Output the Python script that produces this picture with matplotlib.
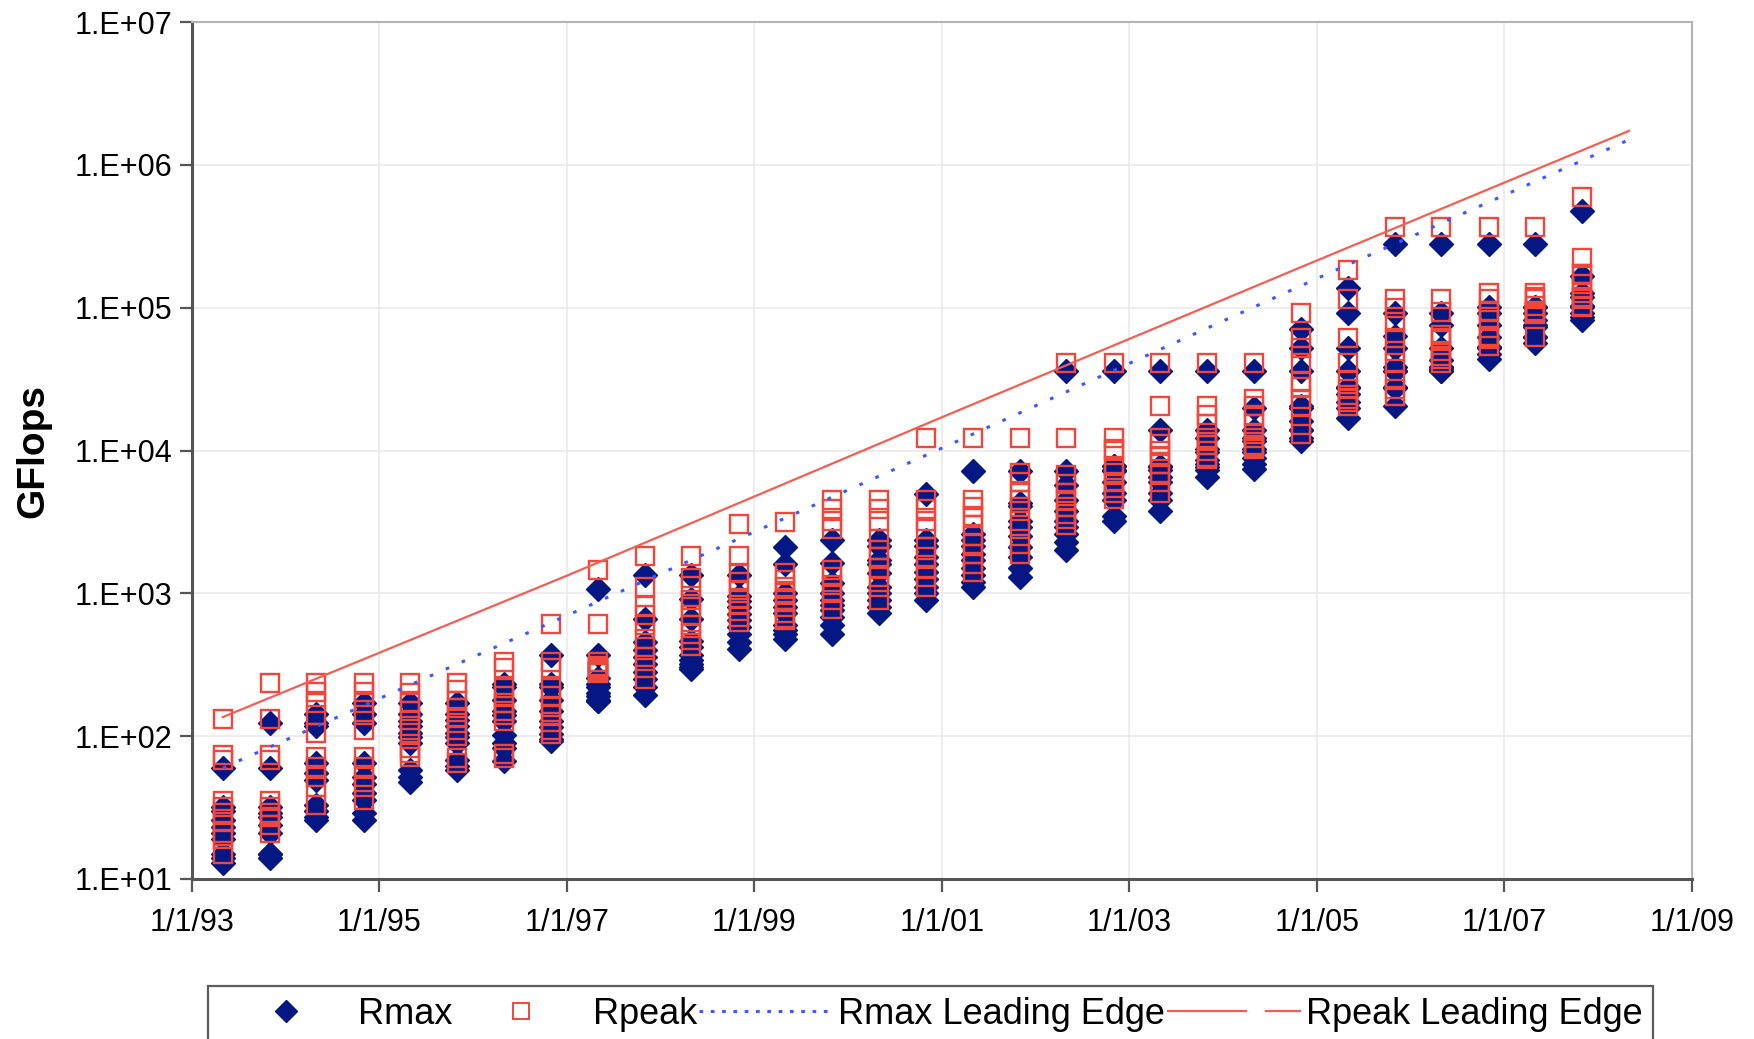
"""Top10 Rmax / Rpeak per TOP500 list, 1993-2007, with leading-edge trend lines."""
import datetime as dt

import matplotlib

matplotlib.use("Agg")
import matplotlib.dates as mdates
import matplotlib.pyplot as plt
from matplotlib.lines import Line2D

plt.rcParams["font.family"] = ["Liberation Sans", "DejaVu Sans"]

# one entry per list (spring / autumn)
LIST_DATES = [
    "1993-05-01", "1993-11-01", "1994-05-01", "1994-11-01", "1995-05-01",
    "1995-11-01", "1996-05-01", "1996-11-01", "1997-05-01", "1997-11-01",
    "1998-05-01", "1998-11-01", "1999-05-01", "1999-11-01", "2000-05-01",
    "2000-11-01", "2001-05-01", "2001-11-01", "2002-05-01", "2002-11-01",
    "2003-05-01", "2003-11-01", "2004-05-01", "2004-11-01", "2005-05-01",
    "2005-11-01", "2006-05-01", "2006-11-01", "2007-05-01", "2007-11-01",
]

# GFlops, top 10 systems of each list
RMAX = [
    [59.7, 32, 30, 26, 23, 21, 19, 15, 14, 13],
    [124, 59.7, 32, 29, 27, 24, 21, 15, 15, 14],
    [143, 124, 117, 65, 55, 49, 33, 30, 27, 26],
    [170, 143, 124, 65, 52, 46, 40, 36, 29, 26],
    [170, 143, 128, 117, 105, 98, 90, 58, 52, 48],
    [170, 143, 130, 118, 105, 98, 90, 68, 62, 58],
    [232, 220, 180, 150, 140, 128, 102, 90, 83, 67],
    [368, 232, 220, 180, 150, 128, 115, 103, 95, 92],
    [1068, 368, 254, 232, 220, 200, 190, 180, 176, 175],
    [1338, 660, 455, 400, 360, 320, 280, 250, 220, 195],
    [1338, 908, 660, 467, 420, 368, 340, 320, 305, 297],
    [1338, 960, 880, 800, 720, 650, 580, 520, 460, 409],
    [2121, 1608, 1002, 900, 800, 730, 600, 555, 520, 480],
    [2379, 1630, 1177, 1000, 900, 830, 760, 680, 600, 520],
    [2379, 2144, 1718, 1600, 1383, 1114, 1000, 900, 800, 723],
    [4938, 2379, 2144, 1800, 1608, 1400, 1250, 1100, 1000, 900],
    [7226, 2600, 2379, 2144, 1900, 1700, 1500, 1350, 1200, 1110],
    [7226, 4300, 4059, 3200, 2900, 2500, 2100, 1800, 1500, 1300],
    [35860, 7226, 5700, 4500, 3800, 3200, 2900, 2600, 2300, 2000],
    [35860, 7727, 7727, 7304, 7226, 6000, 5000, 4500, 3500, 3200],
    [35860, 13880, 7727, 7634, 7304, 6500, 6000, 5000, 4500, 3800],
    [35860, 13880, 12250, 10280, 9819, 8633, 8051, 7634, 7304, 6500],
    [35860, 19940, 13880, 12250, 11680, 10280, 9819, 8800, 8000, 7400],
    [70720, 51870, 35860, 20530, 19940, 16000, 14000, 13880, 12250, 11680],
    [136800, 91290, 51870, 35860, 27910, 27450, 24670, 21930, 19940, 17000],
    [280600, 91290, 63390, 51870, 38270, 36190, 35860, 27910, 27450, 20530],
    [280600, 91290, 75760, 51870, 42900, 38270, 38180, 37330, 36190, 35860],
    [280600, 101400, 91290, 75760, 62630, 53000, 52840, 51870, 47380, 43480],
    [280600, 101700, 101400, 91290, 82160, 75760, 73030, 62680, 62630, 56520],
    [478200, 167300, 126900, 117900, 102800, 102200, 101700, 91290, 85370, 82160],
]

RPEAK = [
    [131, 74, 68, 35, 32, 29, 25, 21, 19, 15],
    [236, 131, 74, 68, 35, 32, 29, 27, 24, 21],
    [236, 205, 170, 141, 105, 72, 61, 52, 44, 33],
    [236, 205, 170, 141, 110, 72, 61, 52, 44, 36],
    [236, 200, 170, 150, 130, 117, 105, 82, 76, 72],
    [236, 210, 176, 157, 137, 124, 110, 100, 70, 65],
    [331, 300, 216, 190, 170, 150, 140, 127, 75, 70],
    [614, 331, 300, 216, 190, 160, 140, 125, 110, 103],
    [1453, 614, 331, 310, 300, 297, 290, 285, 281, 275],
    [1830, 1100, 815, 700, 600, 480, 420, 360, 300, 250],
    [1830, 1284, 1123, 900, 800, 700, 600, 520, 470, 431],
    [3072, 1830, 1390, 1200, 1050, 930, 830, 750, 680, 627],
    [3154, 1383, 1242, 1115, 1002, 899, 807, 726, 670, 652],
    [4500, 3900, 3200, 2800, 1460, 1300, 1150, 1000, 900, 780],
    [4500, 3900, 3200, 2400, 2000, 1800, 1500, 1300, 1100, 900],
    [12288, 4500, 3900, 3200, 2800, 2100, 1800, 1500, 1300, 1100],
    [12288, 4500, 4000, 3500, 3000, 2500, 2200, 1900, 1600, 1400],
    [12288, 7000, 6000, 5000, 4500, 4000, 3200, 2800, 2200, 1900],
    [40960, 12288, 6700, 5800, 5000, 4500, 4000, 3600, 3300, 3000],
    [40960, 12288, 10240, 10000, 7800, 7000, 6000, 5500, 5000, 4600],
    [40960, 20480, 12288, 11060, 10000, 9000, 8000, 7000, 6000, 5000],
    [40960, 20480, 17600, 15300, 12300, 11000, 11000, 10000, 9000, 8700],
    [40960, 22900, 20480, 17600, 15300, 13000, 12300, 11000, 10600, 10200],
    [91750, 60960, 51870, 40960, 30000, 28000, 22900, 20480, 15000, 13000],
    [183500, 114688, 60960, 40960, 31360, 27130, 24580, 22940, 22000, 20480],
    [367000, 114688, 100000, 80000, 60960, 50000, 40960, 31360, 27000, 24000],
    [367000, 114688, 92780, 64510, 60960, 59800, 49870, 45880, 43520, 40960],
    [367000, 127400, 114688, 94210, 92780, 82120, 63800, 60960, 60200, 54200],
    [367000, 127400, 119350, 114688, 103200, 94210, 92780, 91750, 89590, 62260],
    [596400, 222800, 172600, 172000, 146400, 127500, 119350, 114688, 103200, 101500],
]

EDGE_DATES = ["1993-05-01", "1997-01-01", "2001-01-01", "2005-01-01", "2008-05-01"]
RMAX_EDGE = [60, 700, 10400, 160000, 1.50e6]
RPEAK_EDGE = [136, 1330, 17100, 214000, 1.73e6]

XTICK_YEARS = [1993, 1995, 1997, 1999, 2001, 2003, 2005, 2007, 2009]
XTICK_LABELS = ["1/1/93", "1/1/95", "1/1/97", "1/1/99", "1/1/01",
                "1/1/03", "1/1/05", "1/1/07", "1/1/09"]
YTICKS = [1e1, 1e2, 1e3, 1e4, 1e5, 1e6, 1e7]
YTICK_LABELS = ["1.E+01", "1.E+02", "1.E+03", "1.E+04", "1.E+05", "1.E+06", "1.E+07"]

NAVY = "#041783"
RED = "#f0463c"
LINE_RED = "#f35e54"
LINE_BLUE = "#3d57ff"


def to_num(s):
    return mdates.date2num(dt.date.fromisoformat(s))


def flatten(dates, groups):
    xs, ys = [], []
    for d, vals in zip(dates, groups):
        xs += [to_num(d)] * len(vals)
        ys += vals
    return xs, ys


def main():
    fig = plt.figure(figsize=(17.54, 10.39), dpi=100)
    ax = fig.add_axes([192 / 1754, 1 - 879 / 1039, 1500 / 1754, 857 / 1039])

    x_max, y_max = flatten(LIST_DATES, RMAX)
    x_pk, y_pk = flatten(LIST_DATES, RPEAK)
    ex = [to_num(d) for d in EDGE_DATES]

    ax.plot(x_max, y_max, linestyle="none", marker="D", markersize=12.5,
            color=NAVY, zorder=3)
    ax.plot(x_pk, y_pk, linestyle="none", marker="s", markersize=13.5,
            markerfacecolor="none", markeredgecolor=RED, markeredgewidth=1.7,
            zorder=4)
    ax.plot(ex, RMAX_EDGE, color=LINE_BLUE, linewidth=2.2,
            linestyle=(0, (1.2, 4.5)), zorder=5)
    ax.plot(ex, RPEAK_EDGE, color=LINE_RED, linewidth=1.6, zorder=5)

    ax.set_yscale("log")
    ax.set_ylim(1e1, 1e7)
    ax.set_yticks(YTICKS)
    ax.set_yticklabels(YTICK_LABELS)
    ax.yaxis.set_minor_locator(matplotlib.ticker.NullLocator())

    ax.set_xlim(to_num("1993-01-01"), to_num("2009-01-01"))
    ax.set_xticks([to_num(f"{y}-01-01") for y in XTICK_YEARS])
    ax.set_xticklabels(XTICK_LABELS)

    ax.grid(True, color="#e8e8e8", linewidth=1.1)
    ax.set_axisbelow(True)
    for side in ("left", "bottom"):
        ax.spines[side].set_color("#555555")
        ax.spines[side].set_linewidth(2.2)
    for side in ("top", "right"):
        ax.spines[side].set_color("#b4b4b4")
        ax.spines[side].set_linewidth(1.5)

    ax.tick_params(axis="both", labelsize=22, length=9, width=1.6,
                   color="#555555", direction="out")
    ax.tick_params(axis="x", pad=12)
    ax.tick_params(axis="y", pad=5)

    ax.set_ylabel("GFlops", fontsize=28, fontweight="bold")
    ax.yaxis.set_label_coords(-0.094, 0.5)

    handles = [
        Line2D([], [], linestyle="none", marker="D", markersize=11, color=NAVY),
        Line2D([], [], linestyle="none", marker="s", markersize=12,
               markerfacecolor="none", markeredgecolor=RED, markeredgewidth=1.4),
        Line2D([], [], color=LINE_BLUE, linewidth=2.2, linestyle=(0, (1.2, 2.5))),
        Line2D([], [], color=LINE_RED, linewidth=1.6, linestyle=(0, (36, 8))),
    ]
    labels = ["Rmax", "Rpeak", "Rmax Leading Edge", "Rpeak Leading Edge"]
    leg = fig.legend(handles, labels, loc="upper left",
                     bbox_to_anchor=(208 / 1754, 1 - 986 / 1039),
                     ncol=4, fontsize=26, frameon=True, fancybox=False,
                     handlelength=3.7, handletextpad=0.15, columnspacing=0.05,
                     borderpad=0.3, borderaxespad=0)
    leg.get_frame().set_edgecolor("#333333")
    leg.get_frame().set_linewidth(1.6)

    fig.savefig("out.png", dpi=100)


if __name__ == "__main__":
    main()
